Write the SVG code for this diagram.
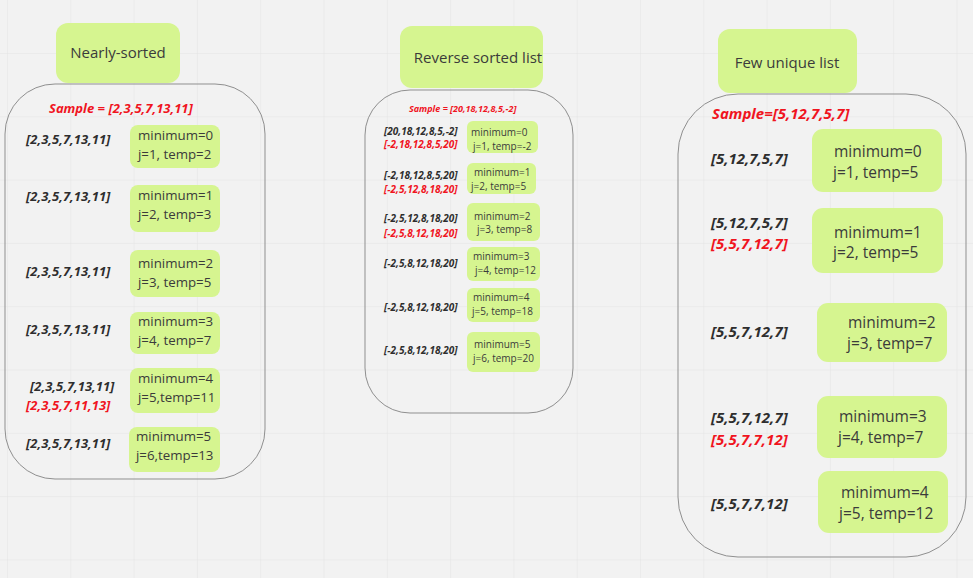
<svg xmlns="http://www.w3.org/2000/svg" width="973" height="578" viewBox="0 0 973 578">
<defs>
<pattern id="grid" patternUnits="userSpaceOnUse" x="7" y="53" width="63.3" height="63.3">
<path d="M0 0 H63.3 M0 0 V63.3" fill="none" stroke="#e4e4e4" stroke-width="1"/>
</pattern>
<style>
text{font-family:"Open Sans","Noto Sans","Liberation Sans",sans-serif;dominant-baseline:central}
.hdr{fill:#d6f590}
.htx{font-size:15px;fill:#3b3b3b;text-anchor:middle}
.cont{fill:none;stroke:#8f8f8f;stroke-width:1}
.box{fill:#d6f590}
.arr{font-weight:bold;font-style:italic;fill:#2e2e2e}
.red{font-weight:bold;font-style:italic;fill:#f0141e}
.bt{fill:#3b3b3b}
.s1{font-size:13px}
.b1{font-size:13.3px}
.s2{font-size:10px}
.sm2{font-size:9px}
.b2{font-size:10px}
.s3{font-size:15px}
.b3{font-size:15.5px}
</style>
</defs>
<rect width="973" height="578" fill="#f2f2f2"/>
<rect width="973" height="578" fill="url(#grid)"/>

<g id="connectors"/>

<!-- Column 1 -->
<g id="hdr-nearly">
<rect class="hdr" x="56" y="23" width="124" height="60" rx="12"/>
<text class="htx" x="118" y="52">Nearly-sorted</text>
</g>
<g id="group-nearly">
<rect class="cont" x="5" y="84" width="260" height="395" rx="50"/>
<text class="red s1" x="49" y="108">Sample = [2,3,5,7,13,11]</text>
</g>
<g id="n-row1">
<text class="arr s1" x="26" y="139">[2,3,5,7,13,11]</text>
<rect class="box" x="130" y="125" width="90" height="43" rx="8"/>
<text class="bt b1" x="138" y="135">minimum=0</text>
<text class="bt b1" x="138" y="154">j=1, temp=2</text>
</g>
<g id="n-row2">
<text class="arr s1" x="26" y="196">[2,3,5,7,13,11]</text>
<rect class="box" x="130" y="185" width="90" height="47" rx="8"/>
<text class="bt b1" x="138" y="195">minimum=1</text>
<text class="bt b1" x="138" y="214">j=2, temp=3</text>
</g>
<g id="n-row3">
<text class="arr s1" x="26" y="271">[2,3,5,7,13,11]</text>
<rect class="box" x="130" y="250" width="90" height="47" rx="8"/>
<text class="bt b1" x="138" y="263">minimum=2</text>
<text class="bt b1" x="138" y="282">j=3, temp=5</text>
</g>
<g id="n-row4">
<text class="arr s1" x="26" y="329">[2,3,5,7,13,11]</text>
<rect class="box" x="130" y="312" width="90" height="42" rx="8"/>
<text class="bt b1" x="138" y="321">minimum=3</text>
<text class="bt b1" x="138" y="340">j=4, temp=7</text>
</g>
<g id="n-row5">
<text class="arr s1" x="30" y="386">[2,3,5,7,13,11]</text>
<text class="red s1" x="26" y="405">[2,3,5,7,11,13]</text>
<rect class="box" x="130" y="368" width="90" height="45" rx="8"/>
<text class="bt b1" x="138" y="378">minimum=4</text>
<text class="bt b1" x="138" y="397">j=5,temp=11</text>
</g>
<g id="n-row6">
<text class="arr s1" x="26" y="443">[2,3,5,7,13,11]</text>
<rect class="box" x="129" y="427" width="91" height="45" rx="8"/>
<text class="bt b1" x="136" y="436">minimum=5</text>
<text class="bt b1" x="136" y="455">j=6,temp=13</text>
</g>

<!-- Column 2 -->
<g id="hdr-reverse">
<rect class="hdr" x="400" y="26" width="143" height="62" rx="12"/>
<text class="htx" x="478" y="57">Reverse sorted list</text>
</g>
<g id="group-reverse">
<rect class="cont" x="365" y="90" width="208" height="323" rx="45"/>
<text class="red sm2" x="409" y="108">Sample = [20,18,12,8,5,-2]</text>
</g>
<g id="r-row1">
<text class="arr s2" x="384" y="131">[20,18,12,8,5,-2]</text>
<text class="red s2" x="384" y="144">[-2,18,12,8,5,20]</text>
<rect class="box" x="467" y="121" width="71" height="32" rx="6"/>
<text class="bt b2" x="471" y="132">minimum=0</text>
<text class="bt b2" x="473" y="146">j=1, temp=-2</text>
</g>
<g id="r-row2">
<text class="arr s2" x="384" y="175">[-2,18,12,8,5,20]</text>
<text class="red s2" x="384" y="189">[-2,5,12,8,18,20]</text>
<rect class="box" x="467" y="163" width="69" height="31" rx="6"/>
<text class="bt b2" x="474" y="172">minimum=1</text>
<text class="bt b2" x="471" y="186">j=2, temp=5</text>
</g>
<g id="r-row3">
<text class="arr s2" x="384" y="218">[-2,5,12,8,18,20]</text>
<text class="red s2" x="384" y="233">[-2,5,8,12,18,20]</text>
<rect class="box" x="467" y="203" width="73" height="38" rx="6"/>
<text class="bt b2" x="474" y="216">minimum=2</text>
<text class="bt b2" x="477" y="229">j=3, temp=8</text>
</g>
<g id="r-row4">
<text class="arr s2" x="384" y="263">[-2,5,8,12,18,20]</text>
<rect class="box" x="467" y="247" width="73" height="34" rx="6"/>
<text class="bt b2" x="473" y="256">minimum=3</text>
<text class="bt b2" x="475" y="270">j=4, temp=12</text>
</g>
<g id="r-row5">
<text class="arr s2" x="384" y="307">[-2,5,8,12,18,20]</text>
<rect class="box" x="467" y="288" width="73" height="34" rx="6"/>
<text class="bt b2" x="473" y="297">minimum=4</text>
<text class="bt b2" x="472" y="311">j=5, temp=18</text>
</g>
<g id="r-row6">
<text class="arr s2" x="384" y="350">[-2,5,8,12,18,20]</text>
<rect class="box" x="467" y="332" width="73" height="40" rx="6"/>
<text class="bt b2" x="474" y="344">minimum=5</text>
<text class="bt b2" x="473" y="358">j=6, temp=20</text>
</g>

<!-- Column 3 -->
<g id="hdr-few">
<rect class="hdr" x="718" y="29" width="139" height="64" rx="12"/>
<text class="htx" x="787" y="62">Few unique list</text>
</g>
<g id="group-few">
<rect class="cont" x="678" y="94" width="288" height="463" rx="60"/>
<text class="red s3" x="712" y="113">Sample=[5,12,7,5,7]</text>
</g>
<g id="f-row1">
<text class="arr s3" x="711" y="158">[5,12,7,5,7]</text>
<rect class="box" x="812" y="129" width="130" height="63" rx="11"/>
<text class="bt b3" x="834" y="151">minimum=0</text>
<text class="bt b3" x="833" y="172">j=1, temp=5</text>
</g>
<g id="f-row2">
<text class="arr s3" x="711" y="222">[5,12,7,5,7]</text>
<text class="red s3" x="711" y="243">[5,5,7,12,7]</text>
<rect class="box" x="812" y="208" width="131" height="65" rx="11"/>
<text class="bt b3" x="834" y="232">minimum=1</text>
<text class="bt b3" x="833" y="252">j=2, temp=5</text>
</g>
<g id="f-row3">
<text class="arr s3" x="711" y="331">[5,5,7,12,7]</text>
<rect class="box" x="817" y="303" width="130" height="59" rx="11"/>
<text class="bt b3" x="848" y="322">minimum=2</text>
<text class="bt b3" x="847" y="343">j=3, temp=7</text>
</g>
<g id="f-row4">
<text class="arr s3" x="711" y="417">[5,5,7,12,7]</text>
<text class="red s3" x="711" y="439">[5,5,7,7,12]</text>
<rect class="box" x="817" y="396" width="130" height="62" rx="11"/>
<text class="bt b3" x="839" y="416">minimum=3</text>
<text class="bt b3" x="838" y="437">j=4, temp=7</text>
</g>
<g id="f-row5">
<text class="arr s3" x="711" y="503">[5,5,7,7,12]</text>
<rect class="box" x="818" y="471" width="130" height="62" rx="11"/>
<text class="bt b3" x="841" y="492">minimum=4</text>
<text class="bt b3" x="839" y="513">j=5, temp=12</text>
</g>
</svg>
